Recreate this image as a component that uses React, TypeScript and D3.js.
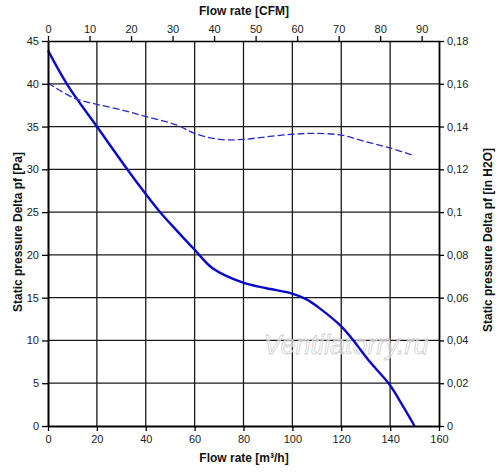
import * as React from 'react';
import {useEffect, useRef} from 'react';
import * as d3 from 'd3';

// solid curve: static pressure [Pa] vs flow [m3/h]
const pressureFlow = [0, 8, 20, 32.7, 40.3, 45.7, 52.5, 60, 67.5, 79.8, 89.4, 99.6, 105.8, 111.2, 119.8, 124.8, 131.7, 139.6, 145.3, 150];
const pressurePa = [43.9, 39.85, 35.0, 29.9, 27.0, 25.05, 22.9, 20.6, 18.4, 16.75, 16.1, 15.5, 14.8, 13.75, 11.7, 10.05, 7.5, 4.9, 2.3, 0];

// dashed curve
const dashFlow = [0, 10.9, 20, 30.7, 40.3, 52.5, 60, 70.3, 79.8, 89.4, 99.8, 108.5, 120, 130.3, 139.9, 149.8];
const dashPa = [40.1, 38.3, 37.6, 36.9, 36.15, 35.2, 34.2, 33.5, 33.5, 33.8, 34.1, 34.2, 34.0, 33.2, 32.5, 31.6];

const bottomTicks = [0, 20, 40, 60, 80, 100, 120, 140, 160];
const topTicks = [0, 10, 20, 30, 40, 50, 60, 70, 80, 90];
const leftTicks = [0, 5, 10, 15, 20, 25, 30, 35, 40, 45];
const rightTicks = [0, 0.02, 0.04, 0.06, 0.08, 0.1, 0.12, 0.14, 0.16, 0.18];

const width = 500;
const height = 473;
const margin = {left: 48, right: 61, top: 41, bottom: 47};
const font = '"Liberation Sans", Arial, sans-serif';

const App = () => {
    const ref = useRef<SVGSVGElement>(null);

    useEffect(() => {
        const svg = d3.select(ref.current);
        svg.selectAll('*').remove();

        const x = d3.scaleLinear().domain([0, 160]).range([margin.left, width - margin.right]);
        const xCfm = d3.scaleLinear().domain([0, 160 / 1.699]).range([margin.left, width - margin.right]);
        const y = d3.scaleLinear().domain([0, 45]).range([height - margin.bottom, margin.top]);
        const yIn = d3.scaleLinear().domain([0, 0.18]).range([height - margin.bottom, margin.top]);

        const x0 = x(0), x1 = x(160), y0 = y(0), y1 = y(45);

        // grid
        const grid = svg.append('g').attr('stroke', '#1a1a1a').attr('stroke-width', 1.3);
        bottomTicks.slice(1, -1).forEach(t => {
            grid.append('line').attr('x1', x(t)).attr('x2', x(t)).attr('y1', y1).attr('y2', y0);
        });
        leftTicks.slice(1, -1).forEach(t => {
            grid.append('line').attr('x1', x0).attr('x2', x1).attr('y1', y(t)).attr('y2', y(t));
        });

        // watermark
        svg.append('text')
            .attr('x', 346).attr('y', 354)
            .attr('text-anchor', 'middle')
            .attr('font-family', font)
            .attr('font-style', 'italic')
            .attr('font-size', 27)
            .attr('fill', 'rgba(255,255,255,0.6)')
            .attr('stroke', '#cfcfcf')
            .attr('stroke-width', 0.8)
            .text('Ventilatorry.ru');

        // curves
        const line = d3.line<number>()
            .x((_, i) => x(pressureFlow[i]))
            .y(d => y(d))
            .curve(d3.curveCatmullRom.alpha(0.5));
        svg.append('path')
            .attr('d', line(pressurePa))
            .attr('fill', 'none')
            .attr('stroke', '#0a0ac8')
            .attr('stroke-width', 2.4);

        const dashLine = d3.line<number>()
            .x((_, i) => x(dashFlow[i]))
            .y(d => y(d))
            .curve(d3.curveCatmullRom.alpha(0.5));
        svg.append('path')
            .attr('d', dashLine(dashPa))
            .attr('fill', 'none')
            .attr('stroke', '#2a2ac8')
            .attr('stroke-width', 1.3)
            .attr('stroke-dasharray', '7,3');

        // axes
        const fmt = (d: d3.NumberValue) => String(+d).replace('.', ',');
        const styleAxis = (g: d3.Selection<SVGGElement, unknown, null, undefined>, w: number) => {
            g.select('.domain').attr('stroke', '#000').attr('stroke-width', w);
            g.selectAll('.tick line').attr('stroke', '#000').attr('stroke-width', 1.3);
            g.selectAll('.tick text')
                .attr('fill', '#222')
                .attr('font-family', font)
                .attr('font-size', 11);
        };

        const gb = svg.append('g').attr('transform', `translate(0,${y0})`)
            .call(d3.axisBottom(x).tickValues(bottomTicks).tickSize(5).tickSizeOuter(0).tickPadding(4));
        styleAxis(gb, 2);

        const gt = svg.append('g').attr('transform', `translate(0,${y1})`)
            .call(d3.axisTop(xCfm).tickValues(topTicks).tickSize(5).tickSizeOuter(0).tickPadding(3));
        styleAxis(gt, 1.5);

        const gl = svg.append('g').attr('transform', `translate(${x0},0)`)
            .call(d3.axisLeft(y).tickValues(leftTicks).tickSize(6).tickSizeOuter(0).tickPadding(3));
        styleAxis(gl, 2);

        const gr = svg.append('g').attr('transform', `translate(${x1},0)`)
            .call(d3.axisRight(yIn).tickValues(rightTicks).tickSize(5).tickSizeOuter(0).tickPadding(3).tickFormat(fmt));
        styleAxis(gr, 1.8);

        // titles
        const title = (tx: number, ty: number, rot: number, txt: string) => {
            svg.append('text')
                .attr('transform', `translate(${tx},${ty}) rotate(${rot})`)
                .attr('text-anchor', 'middle')
                .attr('font-family', font)
                .attr('font-weight', 'bold')
                .attr('font-size', 12)
                .attr('fill', '#111')
                .text(txt);
        };
        title(244, 15, 0, 'Flow rate [CFM]');
        title(244, 462, 0, 'Flow rate [m³/h]');
        title(22, 232, -90, 'Static pressure Delta pf [Pa]');
        title(492, 240, -90, 'Static pressure Delta pf [in H2O]');
    }, []);

    return (
        <div style={{position: 'absolute', left: 0, top: 0}}>
            <svg ref={ref} width={width} height={height} style={{display: 'block', background: '#fff'}}/>
        </div>
    );
};

export default App;
